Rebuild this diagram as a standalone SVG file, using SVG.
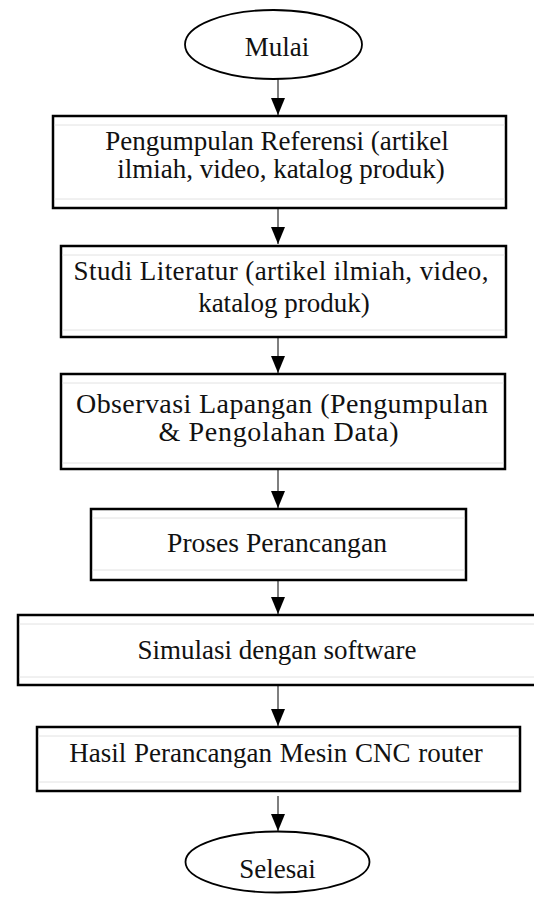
<svg xmlns="http://www.w3.org/2000/svg" width="534" height="899" viewBox="0 0 534 899">
<style>
  .box{fill:#fff;stroke:#000;stroke-width:2.5}
  .term{fill:#fff;stroke:#000;stroke-width:1.8}
  .inner{stroke:#e2e2e2;stroke-width:1;fill:none}
  .t{font-family:"Liberation Serif","Times New Roman",serif;font-size:27px;fill:#111;text-anchor:middle}
  .conn{stroke:#555;stroke-width:1.5;fill:none}
</style>
<defs>
  <marker id="ah" viewBox="0 0 17 14" refX="17" refY="7" markerWidth="17" markerHeight="14" orient="auto" markerUnits="userSpaceOnUse">
    <path d="M0,0 L17,7 L0,14 Z" fill="#000"/>
  </marker>
</defs>
<rect width="534" height="899" fill="#fff"/>
<g id="connectors">
  <line class="conn" x1="278" y1="79" x2="278" y2="115" marker-end="url(#ah)"/>
  <line class="conn" x1="278" y1="209" x2="278" y2="244" marker-end="url(#ah)"/>
  <line class="conn" x1="278" y1="338" x2="278" y2="373" marker-end="url(#ah)"/>
  <line class="conn" x1="278" y1="470" x2="278" y2="508" marker-end="url(#ah)"/>
  <line class="conn" x1="278" y1="581" x2="278" y2="614" marker-end="url(#ah)"/>
  <line class="conn" x1="278" y1="686" x2="278" y2="726" marker-end="url(#ah)"/>
  <line class="conn" x1="278" y1="796" x2="278" y2="831" marker-end="url(#ah)"/>
</g>
<g id="mulai">
  <ellipse class="term" cx="273.5" cy="44.5" rx="88.5" ry="34.5"/>
  <text class="t" x="277" y="56">Mulai</text>
</g>
<g id="pengumpulan">
  <rect class="box" x="53" y="116" width="453" height="92"/>
  <line class="inner" x1="54.5" y1="125" x2="504.5" y2="125"/>
  <line class="inner" x1="54.5" y1="199" x2="504.5" y2="199"/>
  <text class="t" x="277" y="150">Pengumpulan Referensi (artikel</text>
  <text class="t" x="281" y="178">ilmiah, video, katalog produk)</text>
</g>
<g id="studi">
  <rect class="box" x="61" y="246" width="445" height="91"/>
  <line class="inner" x1="62.5" y1="255" x2="504.5" y2="255"/>
  <line class="inner" x1="62.5" y1="330" x2="504.5" y2="330"/>
  <text class="t" x="281" y="280" textLength="415" lengthAdjust="spacing">Studi Literatur (artikel ilmiah, video,</text>
  <text class="t" x="284" y="312">katalog produk)</text>
</g>
<g id="observasi">
  <rect class="box" x="61" y="374" width="444" height="95"/>
  <line class="inner" x1="62.5" y1="383" x2="503.5" y2="383"/>
  <line class="inner" x1="62.5" y1="463" x2="503.5" y2="463"/>
  <text class="t" x="282" y="413" style="font-size:28px" textLength="412" lengthAdjust="spacing">Observasi Lapangan (Pengumpulan</text>
  <text class="t" x="278.5" y="441" style="font-size:28px" textLength="240" lengthAdjust="spacing">&amp; Pengolahan Data)</text>
</g>
<g id="proses">
  <rect class="box" x="91" y="509" width="375" height="71"/>
  <line class="inner" x1="92.5" y1="518" x2="464.5" y2="518"/>
  <line class="inner" x1="92.5" y1="570" x2="464.5" y2="570"/>
  <text class="t" x="277" y="552" style="font-size:27.6px">Proses Perancangan</text>
</g>
<g id="simulasi">
  <rect class="box" x="18" y="615" width="530" height="70"/>
  <line class="inner" x1="19.5" y1="624" x2="534" y2="624"/>
  <line class="inner" x1="19.5" y1="677" x2="534" y2="677"/>
  <text class="t" x="277" y="659">Simulasi dengan software</text>
</g>
<g id="hasil">
  <rect class="box" x="37" y="727" width="483" height="64"/>
  <line class="inner" x1="38.5" y1="736" x2="518.5" y2="736"/>
  <line class="inner" x1="38.5" y1="782" x2="518.5" y2="782"/>
  <text class="t" x="276" y="762" style="word-spacing:1px">Hasil Perancangan Mesin CNC router</text>
</g>
<g id="selesai">
  <ellipse class="term" cx="277.5" cy="862" rx="92" ry="30.5"/>
  <text class="t" x="277.5" y="878">Selesai</text>
</g>
</svg>
